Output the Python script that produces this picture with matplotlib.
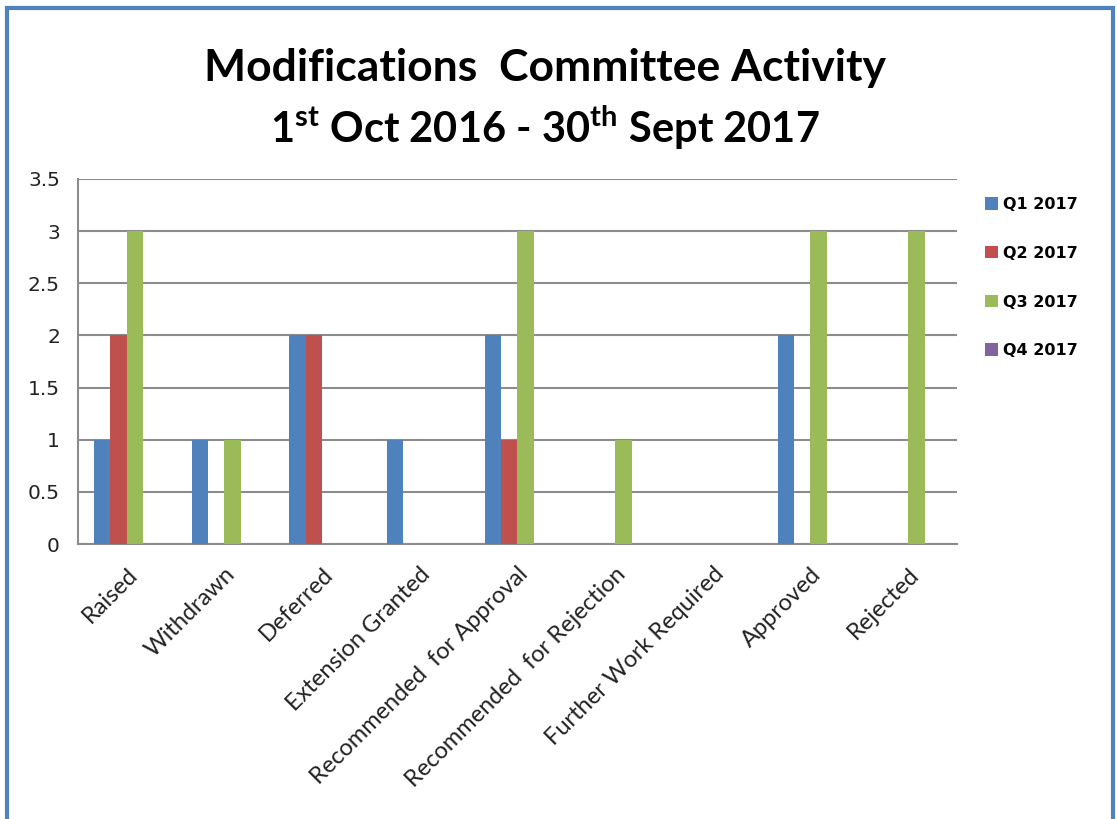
import matplotlib
matplotlib.use("Agg")
import matplotlib.pyplot as plt
from matplotlib.patches import Rectangle
import numpy as np

categories = ["Raised", "Withdrawn", "Deferred", "Extension Granted",
              "Recommended  for Approval", "Recommended  for Rejection",
              "Further Work Required", "Approved", "Rejected"]
series_names = ["Q1 2017", "Q2 2017", "Q3 2017", "Q4 2017"]
q1 = [1, 1, 2, 1, 2, 0, 0, 2, 0]
q2 = [2, 0, 2, 0, 1, 0, 0, 0, 0]
q3 = [3, 1, 0, 0, 3, 1, 0, 3, 3]
q4 = [0, 0, 0, 0, 0, 0, 0, 0, 0]
colors = ["#4F81BD", "#C0504D", "#9BBB59", "#8064A2"]
yticks = [0, 0.5, 1, 1.5, 2, 2.5, 3, 3.5]

plt.rcParams['mathtext.fontset'] = 'custom'
plt.rcParams['mathtext.rm'] = 'Lato:bold'
plt.rcParams['mathtext.bf'] = 'Lato:bold'

W, H = 1117, 819
fig = plt.figure(figsize=(W/100, H/100), dpi=100)
ax = fig.add_axes([78/W, 1-544/H, (957-78)/W, (544-179)/H])

x = np.arange(len(categories)) + 0.5
bw = 0.168
for i, (vals, name) in enumerate(zip([q1, q2, q3, q4], series_names)):
    ax.bar(x + (i-1.5)*bw, vals, width=bw, color=colors[i], label=name, zorder=3)

ax.set_xlim(0, len(categories))
ax.set_ylim(0, 3.5)
ax.set_yticks(yticks)
ax.set_yticklabels([f"{t:g}" for t in yticks], fontsize=14.5, family="DejaVu Sans",
                   color="#222222")
ax.yaxis.grid(True, color="#8C8C8C", linewidth=1.5, zorder=0)
ax.tick_params(axis='y', length=0, pad=13)
ax.tick_params(axis='x', length=0, pad=14)
for s in ["top", "right"]:
    ax.spines[s].set_visible(False)
for s in ["left", "bottom"]:
    ax.spines[s].set_color("#8C8C8C")
    ax.spines[s].set_linewidth(1.5)
ax.set_xticks(x)
ax.set_xticklabels(categories, rotation=45, ha='right', rotation_mode='anchor',
                   fontsize=17, family="Lato", color="#222222")

fig.text(545/W, 1-68/H, "Modifications  Committee Activity", ha='center', va='center',
         fontsize=32, family="Lato", weight="bold")
fig.text(545/W, 1-128/H, r"1$^{\mathrm{st}}$ Oct 2016 - 30$^{\mathrm{th}}$ Sept 2017",
         ha='center', va='center', fontsize=30, family="Lato", weight="bold")

leg = ax.legend(loc='upper left', bbox_to_anchor=(980/W, 1-192/H), bbox_transform=fig.transFigure,
                frameon=False, handlelength=0.85, handleheight=0.85, handletextpad=0.3,
                labelspacing=2.12, borderaxespad=0, borderpad=0.3,
                prop={'family': 'DejaVu Sans', 'size': 11.5, 'weight': 'bold'})

fig.patches.append(Rectangle((7/W, -0.05), (1113-7)/W, 1.05-8/H, transform=fig.transFigure,
                             fill=False, edgecolor="#4F81BD", linewidth=3, clip_on=False))

fig.savefig("out.png", dpi=100)
